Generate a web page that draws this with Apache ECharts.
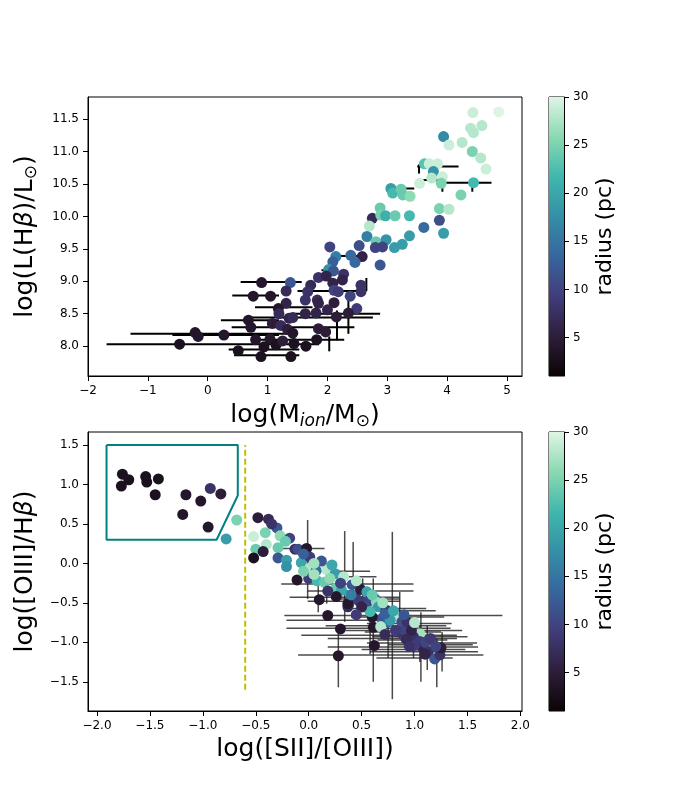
<!DOCTYPE html>
<html>
<head>
<meta charset="utf-8">
<script src="https://cdn.jsdelivr.net/npm/echarts@6/dist/echarts.min.js"></script>
<style>
html, body { margin: 0; padding: 0; background: #fff; }
#chart { width: 700px; height: 800px; }
</style>
</head>
<body>
<div id="chart"></div>
<script>
// top panel: ionised mass vs H-beta luminosity
const topX = [4.43, 4.86, 4.39, 4.58, 4.44, 3.94, 4.03, 4.25, 4.42, 4.56, 4.65, 3.62, 3.70, 3.84, 3.77, 3.92, 3.74, 3.54, 3.90, 4.44,
	4.23, 3.06, 3.09, 3.23, 3.26, 3.38, 3.87, 4.03, 2.88, 2.75, 2.89, 2.97, 3.13, 3.37, 2.70, 3.87, 3.61, 3.94, 2.66, 2.81,
	2.98, 3.12, 3.25, 3.37, 2.80, 2.92, 2.53, 2.04, 2.39, 2.58, 2.14, 2.46, 2.88, 2.09, 2.02, 2.10, 1.85, 1.98, 2.27, 2.25,
	0.90, 1.38, 1.72, 2.09, 2.56, 2.56, 1.31, 1.67, 2.11, 2.18, 0.76, 1.05, 1.63, 1.83, 2.38, 1.31, 1.85, 2.11, 1.18, 2.00,
	2.49, 1.19, 1.63, 1.81, 2.15, 2.35, 0.68, 1.08, 1.36, 1.42, 1.22, 0.72, 1.85, 1.97, 1.33, -0.21, -0.16, 0.27, 1.42, 0.80,
	1.04, -0.47, 0.94, 1.14, 1.25, 1.44, 1.64, 1.82, 0.51, 0.89, 1.39]
const topY = [11.60, 11.61, 11.36, 11.40, 11.29, 11.23, 11.10, 11.14, 11.00, 10.90, 10.73, 10.81, 10.81, 10.81, 10.69, 10.61, 10.59, 10.51, 10.51, 10.52,
	10.33, 10.43, 10.36, 10.42, 10.33, 10.31, 10.12, 10.11, 10.13, 9.97, 10.02, 10.01, 10.01, 10.01, 9.85, 9.94, 9.83, 9.74, 9.69, 9.61,
	9.64, 9.52, 9.57, 9.70, 9.52, 9.53, 9.55, 9.53, 9.40, 9.38, 9.38, 9.29, 9.25, 9.30, 9.18, 9.16, 9.06, 9.08, 9.11, 9.02,
	8.98, 8.98, 8.94, 8.97, 8.94, 8.84, 8.85, 8.84, 8.86, 8.84, 8.77, 8.77, 8.71, 8.71, 8.77, 8.66, 8.66, 8.67, 8.58, 8.56,
	8.58, 8.50, 8.50, 8.51, 8.45, 8.51, 8.40, 8.35, 8.43, 8.44, 8.32, 8.29, 8.27, 8.22, 8.26, 8.21, 8.15, 8.17, 8.20, 8.10,
	8.11, 8.03, 7.99, 8.02, 8.08, 8.04, 8.00, 8.10, 7.93, 7.84, 7.84]
const topR = [29, 30, 28, 28, 28, 17, 29, 28, 25, 28, 29, 23, 29, 29, 18, 29, 28, 29, 25, 22,
	25, 19, 22, 24, 24, 26, 25, 28, 24, 7, 25, 21, 24, 22, 28, 11, 14, 19, 16, 24,
	18, 19, 19, 19, 10, 10, 11, 10, 14, 6, 16, 14, 12, 13, 18, 12, 8, 6, 8, 6,
	4, 12, 7, 6, 8, 8, 7, 8, 10, 9, 4, 4, 8, 7, 10, 6, 6, 5, 4, 6,
	9, 7, 6, 6, 5, 5, 4, 5, 6, 7, 7, 4, 5, 5, 5, 4, 4, 4, 4, 4,
	4, 3, 3, 3, 5, 3, 3, 3, 3, 3, 3]

// top panel error bars (ends)
const topHY = [8.99, 8.78, 8.85, 8.60, 8.50, 8.44, 8.40, 8.29, 8.19, 8.17, 8.10, 8.03, 7.95, 7.86, 10.77, 10.52, 10.56, 9.39, 10.43, 9.17]
const topHLo = [0.55, 0.41, 1.50, 0.79, 1.42, 0.64, 0.22, 0.40, -1.29, -0.59, 0.75, -1.69, 0.35, 0.44, 3.50, 3.98, 3.55, 2.14, 3.25, 1.90]
const topHHi = [1.57, 1.19, 2.65, 1.75, 2.88, 2.76, 1.19, 2.45, 1.42, 1.19, 2.28, 1.86, 1.53, 1.53, 4.19, 4.74, 3.95, 2.56, 3.45, 2.10]
const topVX = [2.16, 2.35, 2.03, 3.92, 4.42, 3.53, 2.65]
const topVLo = [8.09, 8.19, 7.92, 10.38, 10.38, 10.66, 8.85]
const topVHi = [8.55, 8.73, 8.15, 10.66, 10.57, 10.80, 9.05]

// bottom panel: line ratio diagram
const botX = [-1.76, -1.70, -1.77, -1.54, -1.53, -1.42, -1.45, -1.16, -0.93, -0.83, -1.02, -1.19, -0.95, -0.68, -0.78,
	-0.48, -0.38, -0.30, -0.52, -0.41, -0.27, -0.18, -0.50, -0.40, -0.43, -0.52, -0.29, -0.29, -0.13, -0.10, -0.02,
	-0.21, -0.21, -0.07, 0.01, -0.11, 0.01, 0.07, 0.17, 0.12, 0.00, 0.08, 0.15, 0.25, 0.33, 0.26, 0.31, 0.26, 0.10,
	0.18, 0.30, 0.28, 0.37, 0.41, 0.44, 0.49, 0.55, 0.56, 0.62, 0.64, 0.66, 0.53, 0.61, 0.62, 0.69, 0.73, 0.80, 0.85,
	0.75, 0.77, 0.88, 0.85, 0.91, 0.97, 1.05, 0.99, 1.05, 1.07, 1.13, 1.19, 1.24, 1.25, 0.60, 0.93, 0.82, 0.97, 1.00,
	0.37, 0.05, 0.20, 0.47, 0.72, 1.10, 0.92, 0.68, 0.58, -0.05, 0.40,
	-0.35, -0.22, -0.05, 0.05, 0.22, 0.30, 0.18, 0.45, 0.50, 0.70, 0.80, 0.90, 1.00, 1.15, 1.10, 0.95, 1.20, 0.72, 0.45, 0.60]
const botY = [1.13, 1.06, 0.98, 1.10, 1.03, 1.07, 0.87, 0.87, 0.95, 0.88, 0.79, 0.62, 0.46, 0.55, 0.31,
	0.58, 0.56, 0.45, 0.34, 0.39, 0.35, 0.32, 0.18, 0.24, 0.15, 0.07, 0.20, 0.07, 0.18, 0.18, 0.19,
	0.04, -0.04, 0.01, 0.08, -0.21, -0.06, -0.09, -0.08, 0.03, -0.19, -0.22, -0.24, -0.13, -0.17, -0.31, -0.34, -0.42, -0.46,
	-0.66, -0.83, -1.17, -0.55, -0.27, -0.43, -0.33, -0.36, -0.48, -0.44, -0.49, -0.55, -0.55, -0.81, -1.04, -0.70, -0.59, -0.66, -0.69,
	-0.74, -0.72, -0.74, -0.87, -0.85, -0.81, -0.89, -0.93, -0.99, -1.06, -1.12, -1.21, -1.16, -1.07, -0.68, -0.74, -0.85, -0.85, -1.04,
	-0.51, -0.14, -0.19, -0.47, -0.64, -1.00, -0.96, -0.80, -0.61, -0.10, -0.40,
	0.50, 0.28, 0.12, 0.00, -0.02, -0.25, -0.35, -0.22, -0.55, -0.50, -0.60, -0.65, -0.75, -0.95, -1.15, -1.05, -1.05, -0.90, -0.65, -0.40]
const botR = [3, 3, 3, 3, 3, 3, 3, 4, 8, 5, 4, 4, 4, 25, 19,
	5, 7, 12, 29, 25, 26, 10, 24, 28, 5, 3, 24, 12, 8, 11, 4,
	19, 18, 20, 9, 4, 28, 14, 28, 12, 9, 22, 24, 19, 28, 24, 20, 4, 4,
	4, 4, 4, 7, 12, 8, 5, 20, 10, 13, 26, 19, 11, 4, 4, 12, 9, 6, 28,
	14, 19, 11, 8, 10, 12, 27, 8, 9, 6, 8, 12, 8, 5, 4, 8, 9, 6, 9,
	4, 27, 26, 9, 13, 10, 7, 28, 22, 25, 16,
	8, 24, 13, 27, 20, 10, 8, 28, 6, 27, 20, 12, 28, 9, 6, 8, 10, 7, 9, 24]

const botHY = [-0.26, -0.35, -0.48, -0.66, -0.72, -0.82, -0.91, -0.95, -1.01, -1.06, -1.12, -1.16, -0.79, -0.57, -0.45,
	-0.87, -0.97, -1.20, -0.10, -0.17, 0.19, -0.43, -0.60, -0.68, -0.76, -0.85, -0.93, -1.03, -1.09]
const botHLo = [-0.26, -0.01, -0.01, -0.23, -0.21, -0.21, -0.07, 0.18, 0.55, 0.18, 0.58, -0.10, 0.16, 0.35, 0.30,
	0.53, 0.65, 0.64, -0.01, 0.18, -0.26, -0.18, 0.45, 0.40, 0.55, 0.35, 0.60, 0.75, 0.50]
const botHHi = [0.99, 0.99, 0.86, 1.83, 0.99, 1.34, 1.40, 1.40, 1.59, 1.60, 1.60, 1.65, 1.30, 1.11, 0.86,
	1.25, 1.31, 1.36, 0.58, 0.64, 0.15, 0.86, 1.20, 1.28, 1.35, 1.45, 1.50, 1.55, 1.48]
const botVX = [-0.01, 0.34, 0.42, 0.79, 0.61, 0.28, 1.06, 1.21, 1.05, 0.51, 0.86, 0.94, 0.99, 1.12, 0.69, 0.17, 0.09, 1.26, 0.58, 0.75]
const botVLo = [-0.45, -0.74, -0.55, -1.72, -1.50, -1.57, -1.50, -1.57, -1.25, -0.62, -0.95, -1.12, -1.20, -1.35, -0.95, -0.51, -0.62, -1.37, -1.15, -1.20]
const botVHi = [0.55, 0.41, 0.27, 0.40, -0.19, -0.87, -0.62, -0.95, -0.79, -0.19, -0.36, -0.62, -0.70, -0.79, -0.45, 0.00, -0.27, -0.87, -0.45, -0.60]

// selection box and dividing line
const boxX = [-1.91, -0.67, -0.67, -0.87, -1.91, -1.91]
const boxY = [1.50, 1.50, 0.86, 0.30, 0.30, 1.50]
const cutX = [-0.6, -0.6]
const cutY = [-1.6, 1.5]

// ticks
const topXTicks = [-2, -1, 0, 1, 2, 3, 4, 5]
const topYTicks = [8.0, 8.5, 9.0, 9.5, 10.0, 10.5, 11.0, 11.5]
const botXTicks = [-2.0, -1.5, -1.0, -0.5, 0.0, 0.5, 1.0, 1.5, 2.0]
const botYTicks = [-1.5, -1.0, -0.5, 0.0, 0.5, 1.0, 1.5]
const cbTicks = [5, 10, 15, 20, 25, 30]
const cbMin = 1
const cbMax = 30

const mako = ['#0B0405', '#2E1E3B', '#413D7B', '#37659E', '#348FA7', '#40B7AD', '#8AD9B1', '#DEF5E5']
const font = 'DejaVu Sans'

const fmt = d => v => (v < 0 ? '\u2212' : '') + Math.abs(v).toFixed(d)

const subRich = {
	n: { fontSize: 25, fontFamily: font, color: '#000', lineHeight: 30 },
	s: { fontSize: 17, fontFamily: font, color: '#000', lineHeight: 17, verticalAlign: 'bottom' },
	i: { fontSize: 17, fontFamily: font, fontStyle: 'italic', color: '#000', lineHeight: 17, verticalAlign: 'bottom' },
	b: { fontSize: 25, fontFamily: font, fontStyle: 'italic', color: '#000', lineHeight: 30 }
}

function valueAxis(gridIndex, min, max, ticks, digits, extra) {
	return Object.assign({
		type: 'value',
		gridIndex: gridIndex,
		min: min,
		max: max,
		axisLine: { show: true, onZero: false, lineStyle: { color: '#000', width: 1 } },
		axisTick: { show: true, length: 5, customValues: ticks, lineStyle: { color: '#000' } },
		axisLabel: { customValues: ticks, formatter: fmt(digits), color: '#000', fontSize: 12, fontFamily: font, margin: 9 },
		splitLine: { show: false }
	}, extra)
}

function barSeries(xi, yi, data, color, width) {
	return {
		type: 'custom',
		xAxisIndex: xi,
		yAxisIndex: yi,
		z: 1,
		silent: true,
		clip: true,
		data: data,
		renderItem(params, api) {
			const a = api.coord([api.value(0), api.value(1)])
			const b = api.coord([api.value(2), api.value(3)])
			return {
				type: 'line',
				shape: { x1: a[0], y1: a[1], x2: b[0], y2: b[1] },
				style: { stroke: color, lineWidth: width }
			}
		}
	}
}

function colorbarSeries(xi, yi) {
	return {
		type: 'custom',
		xAxisIndex: xi,
		yAxisIndex: yi,
		silent: true,
		data: [[0, cbMin, 1, cbMax]],
		renderItem(params, api) {
			const p0 = api.coord([api.value(0), api.value(3)])
			const p1 = api.coord([api.value(2), api.value(1)])
			return {
				type: 'rect',
				shape: { x: p0[0], y: p0[1], width: p1[0] - p0[0], height: p1[1] - p0[1] },
				style: {
					fill: new echarts.graphic.LinearGradient(0, 1, 0, 0,
						mako.map((c, k) => ({ offset: k / (mako.length - 1), color: c })))
				}
			}
		}
	}
}

const topErr = topHY.map((y, i) => [topHLo[i], y, topHHi[i], y])
	.concat(topVX.map((x, i) => [x, topVLo[i], x, topVHi[i]]))
const botErr = botHY.map((y, i) => [botHLo[i], y, botHHi[i], y])
	.concat(botVX.map((x, i) => [x, botVLo[i], x, botVHi[i]]))

const gridBox = { show: true, borderColor: '#000', borderWidth: 1, backgroundColor: 'transparent' }

const option = {
	animation: false,
	backgroundColor: '#fff',
	textStyle: { fontFamily: font },
	grid: [
		Object.assign({ left: 88, top: 97, width: 434, height: 279 }, gridBox),
		Object.assign({ left: 88, top: 432, width: 434, height: 279 }, gridBox),
		Object.assign({ left: 549, top: 97, width: 15, height: 279 }, gridBox),
		Object.assign({ left: 549, top: 432, width: 15, height: 279 }, gridBox)
	],
	xAxis: [
		valueAxis(0, -2, 5.25, topXTicks, 0, {
			name: '{n|log(M}{i|ion}{n|/M}{s|\u2299}{n|)}',
			nameLocation: 'middle', nameGap: 24,
			nameTextStyle: { rich: subRich }
		}),
		valueAxis(1, -2.085, 2.015, botXTicks, 1, {
			name: 'log([SII]/[OIII])',
			nameLocation: 'middle', nameGap: 26,
			nameTextStyle: { fontSize: 25, color: '#000', fontFamily: font }
		}),
		{ type: 'value', gridIndex: 2, min: 0, max: 1, show: false },
		{ type: 'value', gridIndex: 3, min: 0, max: 1, show: false }
	],
	yAxis: [
		valueAxis(0, 7.54, 11.84, topYTicks, 1, {
			name: '{n|log(L(H}{b|\u03b2}{n|)/L}{s|\u2299}{n|)}',
			nameLocation: 'middle', nameGap: 48,
			nameTextStyle: { rich: subRich }
		}),
		valueAxis(1, -1.87, 1.665, botYTicks, 1, {
			name: '{n|log([OIII]/H}{b|\u03b2}{n|)}',
			nameLocation: 'middle', nameGap: 48,
			nameTextStyle: { rich: subRich }
		}),
		valueAxis(2, cbMin, cbMax, cbTicks, 0, {
			position: 'right',
			name: 'radius (pc)', nameLocation: 'middle', nameGap: 30,
			nameTextStyle: { fontSize: 22, color: '#000', fontFamily: font }
		}),
		valueAxis(3, cbMin, cbMax, cbTicks, 0, {
			position: 'right',
			name: 'radius (pc)', nameLocation: 'middle', nameGap: 30,
			nameTextStyle: { fontSize: 22, color: '#000', fontFamily: font }
		})
	],
	visualMap: [{
		type: 'continuous',
		show: false,
		min: cbMin,
		max: cbMax,
		dimension: 2,
		seriesIndex: [1, 3],
		inRange: { color: mako }
	}],
	series: [
		barSeries(0, 0, topErr, '#000', 2),
		{
			type: 'scatter', xAxisIndex: 0, yAxisIndex: 0, z: 2,
			symbolSize: 11,
			itemStyle: { opacity: 1 },
			data: topX.map((x, i) => [x, topY[i], topR[i]])
		},
		barSeries(1, 1, botErr, 'rgba(30,30,30,0.8)', 1.5),
		{
			type: 'scatter', xAxisIndex: 1, yAxisIndex: 1, z: 3,
			symbolSize: 11,
			itemStyle: { opacity: 1 },
			data: botX.map((x, i) => [x, botY[i], botR[i]])
		},
		{
			type: 'line', xAxisIndex: 1, yAxisIndex: 1, z: 2,
			showSymbol: false, silent: true,
			lineStyle: { color: '#008080', width: 2 },
			data: boxX.map((x, i) => [x, boxY[i]])
		},
		{
			type: 'line', xAxisIndex: 1, yAxisIndex: 1, z: 2,
			showSymbol: false, silent: true,
			lineStyle: { color: '#bfbf00', width: 2, type: [6, 3] },
			data: cutX.map((x, i) => [x, cutY[i]])
		},
		colorbarSeries(2, 2),
		colorbarSeries(3, 3)
	]
}

const chart = echarts.init(document.getElementById('chart'))
chart.setOption(option)
</script>
</body>
</html>
